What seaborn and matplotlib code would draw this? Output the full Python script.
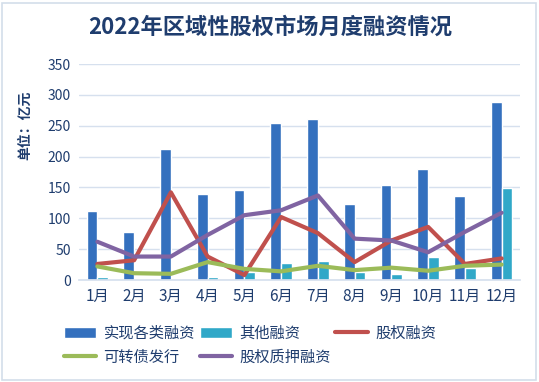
import numpy as np
import pandas as pd
import matplotlib
matplotlib.use("Agg")
import matplotlib.pyplot as plt
from matplotlib.patches import Rectangle
import seaborn as sns

months = ["1月", "2月", "3月", "4月", "5月", "6月", "7月", "8月", "9月", "10月", "11月", "12月"]
total_fin = [112, 78, 212, 139, 146, 254, 261, 123, 154, 180, 136, 288]
other_fin = [5, 2, 2, 5, 13, 27, 31, 13, 9, 37, 20, 149]
equity_fin = [26, 32, 142, 38, 8, 102, 76, 29, 64, 86, 26, 35]
convert_bond = [22, 11, 10, 29, 18, 14, 23, 16, 20, 15, 23, 25]
pledge_fin = [62, 38, 38, 73, 105, 113, 137, 67, 64, 45, 78, 109]

navy = "#1F3D6E"
sns.set_theme(style="white")
plt.rcParams['font.family'] = ['Noto Sans CJK SC', 'DejaVu Sans']

bars = pd.DataFrame({
    "month": months * 2,
    "value": total_fin + other_fin,
    "series": ["实现各类融资"] * 12 + ["其他融资"] * 12,
})

fig = plt.figure(figsize=(5.39, 3.82), dpi=100)
ax = fig.add_axes([79 / 539, 1 - 280 / 382, 441 / 539, 216 / 382])

sns.barplot(data=bars, x="month", y="value", hue="series", order=months,
            palette=["#3470BE", "#30A8C8"], width=0.58, saturation=1,
            ax=ax, legend=True)

x = np.arange(12)
sns.lineplot(x=x, y=equity_fin, color="#C0504D", lw=3, label="股权融资", ax=ax)
sns.lineplot(x=x, y=convert_bond, color="#9BBB59", lw=3, label="可转债发行", ax=ax)
sns.lineplot(x=x, y=pledge_fin, color="#8064A2", lw=3, label="股权质押融资", ax=ax)

ax.set_ylim(0, 350)
ax.set_xlim(-0.5, 11.5)
ax.set_yticks(range(0, 351, 50))
ax.yaxis.grid(True, color="#D6E0EE", lw=1)
ax.set_axisbelow(True)
for s in ["top", "right", "left"]:
    ax.spines[s].set_visible(False)
ax.spines["bottom"].set_color("#D6E0EE")
ax.tick_params(axis="both", length=0, colors=navy, pad=6)
ax.tick_params(axis="y", labelsize=10)
ax.tick_params(axis="x", labelsize=11)
ax.set_xlabel("")
ax.set_ylabel("")

handles, labels = ax.get_legend_handles_labels()
ax.get_legend().remove()
lookup = dict(zip(labels, handles))
order = ["实现各类融资", "可转债发行", "其他融资", "股权质押融资", "股权融资"]
leg = fig.legend([lookup[k] for k in order], order, ncol=3, loc="center",
                 bbox_to_anchor=(250 / 539, 1 - 345 / 382), frameon=False,
                 fontsize=11, handlelength=2.1, columnspacing=0.3,
                 labelspacing=0.45, handletextpad=0.5, borderpad=0)
for t in leg.get_texts():
    t.set_color(navy)

fig.text(270 / 539, 1 - 27 / 382, "2022年区域性股权市场月度融资情况",
         ha="center", va="center", fontsize=16, fontweight="bold", color=navy)
fig.text(25 / 539, 1 - 125 / 382, "单位：亿元", rotation=90, ha="center",
         va="center", fontsize=10, fontweight="bold", color=navy)

fig.patches.append(Rectangle((2 / 539, 2 / 382), 534 / 539, 377 / 382,
                             transform=fig.transFigure, fill=False,
                             edgecolor="#D3DEEA", lw=1.2))

fig.savefig("out.png", dpi=100)
